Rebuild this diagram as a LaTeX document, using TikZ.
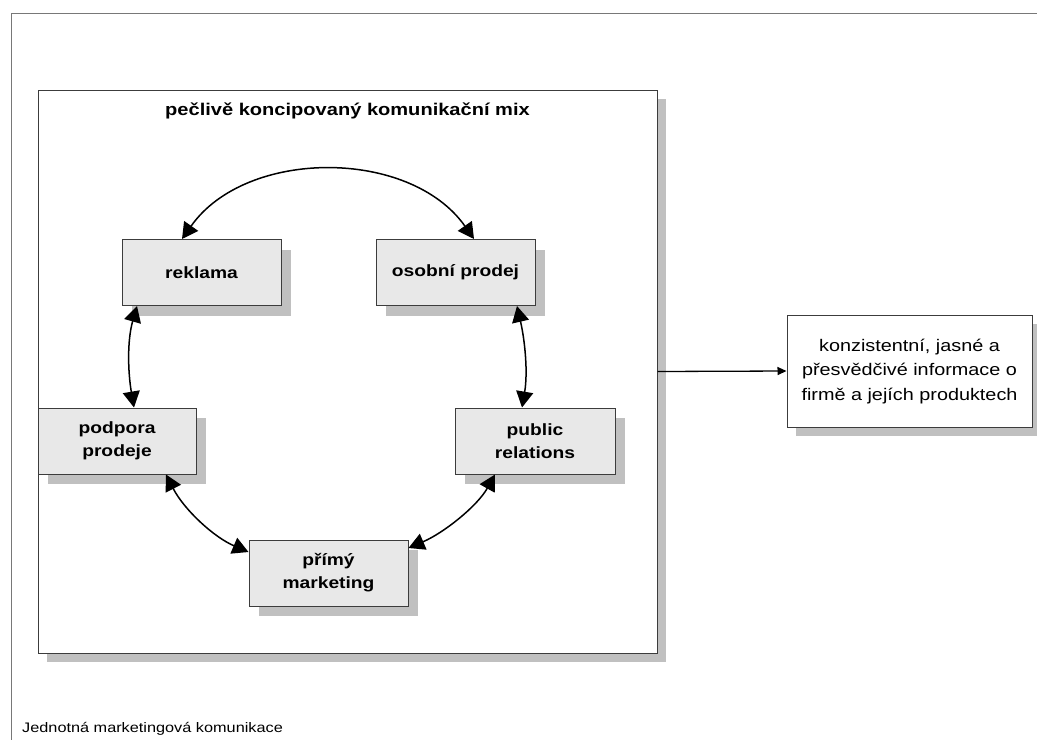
\documentclass[tikz,border=0pt]{standalone}
\usepackage{fontspec}
\setmainfont{Liberation Sans}[FakeStretch=1.18]
\usetikzlibrary{arrows.meta,shadows}
\definecolor{boxfill}{RGB}{232,232,232}
\definecolor{shade}{RGB}{192,192,192}
\definecolor{edge}{RGB}{60,60,60}
\definecolor{framegray}{RGB}{120,120,120}
\begin{document}
\begin{tikzpicture}[x=1pt,y=-1pt,
  panel/.style={draw=edge, line width=1pt, fill=white, inner sep=0pt,
    drop shadow={fill=shade, opacity=1, shadow xshift=9pt, shadow yshift=-9pt}},
  item/.style={draw=edge, line width=1pt, fill=boxfill, inner sep=0pt, align=center,
    minimum width=159pt, minimum height=66pt,
    font=\fontsize{16.3}{23}\selectfont\bfseries,
    drop shadow={fill=shade, opacity=1, shadow xshift=10pt, shadow yshift=-10pt}},
  link/.style={line width=1.5pt, {Triangle[length=16pt,width=17pt]}-{Triangle[length=16pt,width=17pt]}},
  feed/.style={line width=1.3pt, -{Triangle[length=9pt,width=8pt]}}
]
\useasboundingbox (0,0) rectangle (1037,740);

% page frame
\draw[framegray, line width=1pt] (1037,13) -- (11,13) -- (11,740);

% communication mix panel
\node[panel, minimum width=619pt, minimum height=563pt] (mix) at (347.5,371.5) {};
\node[anchor=base, inner sep=0pt, font=\fontsize{17}{20}\selectfont\bfseries] (ttl) at (347.5,115)
  {pečlivě koncipovaný komunikační mix};

% the five instruments
\node[item] (rek) at (201.5,272.5) {\raisebox{-2pt}{reklama}};
\node[item] (osb) at (455.5,272.5) {\raisebox{-2pt}{osobní prodej}};
\node[item, minimum width=158pt] (pod) at (117,441) {podpora\\prodeje};
\node[item, minimum width=160pt] (pr) at (535,441) {public\\relations};
\node[item] (prm) at (328.5,573) {přímý\\marketing};

% two-way links around the circle
\draw[link] ([xshift=-19.5pt]rek.north) .. controls +(64,-91) and +(-64,-91) .. ([xshift=18.5pt]osb.north);
\draw[link] ([xshift=-64.5pt]rek.south) .. controls +(-10,35) and +(-6,-35) .. ([xshift=17pt]pod.north);
\draw[link] ([xshift=61.5pt]osb.south) .. controls +(8,35) and +(6,-35) .. ([xshift=-13pt]pr.north);
\draw[link] ([xshift=49pt]pod.south) .. controls +(18,35) and +(-35,-15) .. ([yshift=21pt]prm.west);
\draw[link] ([xshift=-40pt]pr.south) .. controls +(-18,32) and +(35,-15) .. ([yshift=25pt]prm.east);

% outcome
\node[panel, minimum width=245pt, minimum height=112pt, align=center,
  font=\fontsize{16.8}{23.5}\selectfont] (info) at (909.5,371)
  {\raisebox{-2pt}{\begin{tabular}{@{}c@{}}konzistentní, jasné a\\[1pt]přesvědčivé informace o\\[1pt]firmě a jejích produktech\end{tabular}}};
\draw[feed] (mix.east) -- (info.west);

% caption
\node[anchor=base west, inner sep=0pt, font=\fontsize{13.8}{16}\selectfont] (cap) at (22,732)
  {Jednotná marketingová komunikace};
\end{tikzpicture}
\end{document}
